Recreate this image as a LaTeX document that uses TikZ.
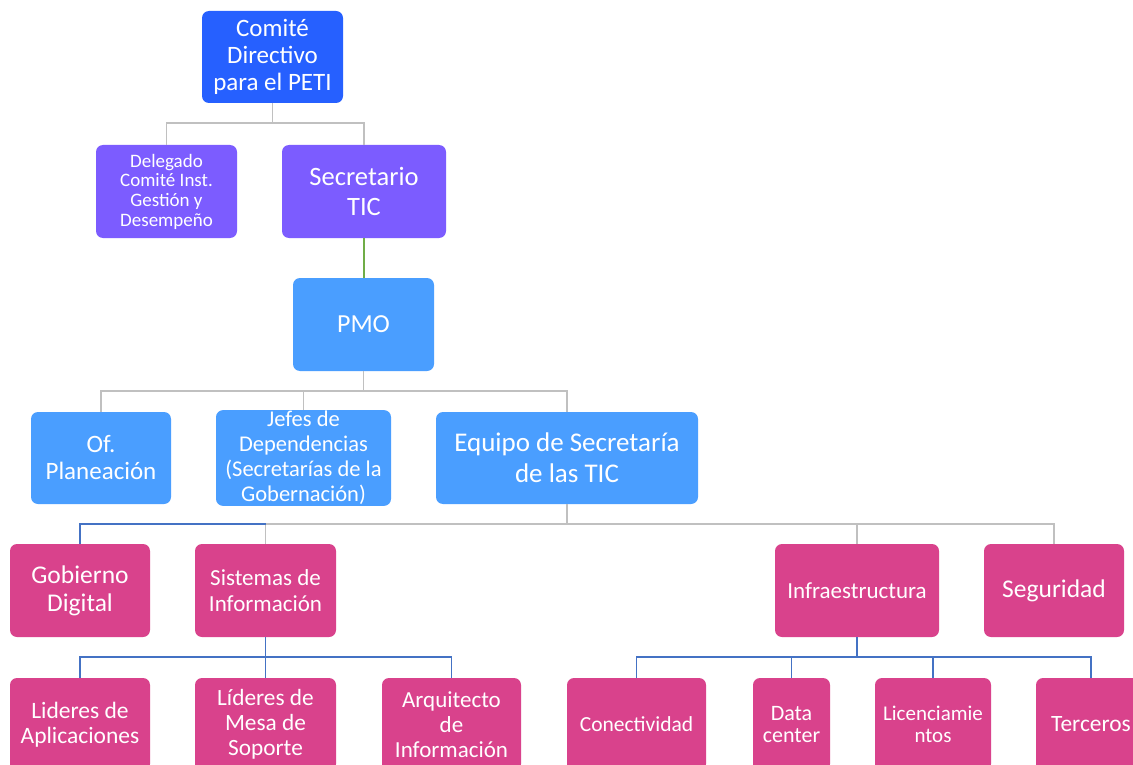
\documentclass[tikz,border=0pt]{standalone}
\usepackage{fontspec}
\setmainfont{Carlito}
\usetikzlibrary{calc}
\definecolor{cTop}{RGB}{38,96,255}
\definecolor{cPur}{RGB}{124,92,255}
\definecolor{cLB}{RGB}{74,158,255}
\definecolor{cPk}{RGB}{217,66,140}
\definecolor{lnG}{RGB}{192,192,192}
\definecolor{lnGr}{RGB}{112,173,71}
\definecolor{lnB}{RGB}{68,114,196}
\tikzset{
  box/.style={rectangle, rounded corners=7pt, draw=none, text=white, align=center, inner sep=1pt},
  gline/.style={draw=lnG, line width=1.8pt},
  grline/.style={draw=lnGr, line width=1.5pt},
  bline/.style={draw=lnB, line width=1.8pt},
}
\begin{document}
\begin{tikzpicture}[x=1pt,y=-1pt]
\useasboundingbox (0,0) rectangle (1133,765);
\fill[white] (0,0) rectangle (1133,765);
\begin{scope}
\clip (0,0) rectangle (1133,765);
% level 0
\node[box, fill=cTop, minimum width=141pt, minimum height=92pt, font=\fontsize{25}{27}\selectfont] (comite) at (272.5,57) {Comité\\Directivo\\para el PETI};
% level 1
\node[box, fill=cPur, minimum width=141pt, minimum height=93pt, font=\fontsize{19}{19.7}\selectfont] (deleg) at (166.5,191.5) {Delegado\\Comité Inst.\\Gestión y\\Desempeño};
\node[box, fill=cPur, minimum width=164pt, minimum height=93pt, font=\fontsize{26.5}{30}\selectfont] (secre) at (364,191.5) {Secretario\\TIC};
% level 2
\node[box, fill=cLB, minimum width=141pt, minimum height=93pt, font=\fontsize{26}{28}\selectfont] (pmo) at (363.5,324.5) {PMO};
% level 3
\node[box, fill=cLB, minimum width=140pt, minimum height=92pt, font=\fontsize{25}{27}\selectfont] (of) at (101,458) {Of.\\Planeación};
\node[box, fill=cLB, minimum width=175pt, minimum height=92pt, font=\fontsize{22.5}{25}\selectfont] (jefes) at (303.5,458) {Jefes de\\Dependencias\\(Secretarías de la\\Gobernación)};
\node[box, fill=cLB, minimum width=262pt, minimum height=92pt, font=\fontsize{27}{31}\selectfont] (equipo) at (567,458) {Equipo de Secretaría\\de las TIC};
% level 4
\node[box, fill=cPk, minimum width=140pt, minimum height=93pt, font=\fontsize{25.5}{28}\selectfont] (gob) at (80,590.5) {Gobierno\\Digital};
\node[box, fill=cPk, minimum width=141pt, minimum height=93pt, font=\fontsize{23}{26}\selectfont] (sist) at (265.5,590.5) {Sistemas de\\Información};
\node[box, fill=cPk, minimum width=164pt, minimum height=93pt, font=\fontsize{23}{26}\selectfont] (infra) at (857,590.5) {Infraestructura};
\node[box, fill=cPk, minimum width=140pt, minimum height=93pt, font=\fontsize{25.5}{28}\selectfont] (seg) at (1054,590.5) {Seguridad};
% level 5
\node[box, fill=cPk, minimum width=140pt, minimum height=93pt, font=\fontsize{23.5}{25}\selectfont] (lidA) at (80,724.5) {Lideres de\\Aplicaciones};
\node[box, fill=cPk, minimum width=141pt, minimum height=93pt, font=\fontsize{23.3}{25}\selectfont] (lidM) at (265.5,724.5) {Líderes de\\Mesa de\\Soporte};
\node[box, fill=cPk, minimum width=139pt, minimum height=93pt, font=\fontsize{23}{25}\selectfont] (arq) at (451.5,724.5) {Arquitecto\\de\\Información};
\node[box, fill=cPk, minimum width=139pt, minimum height=93pt, font=\fontsize{21.5}{24}\selectfont] (con) at (636.5,724.5) {Conectividad};
\node[box, fill=cPk, minimum width=77pt, minimum height=93pt, font=\fontsize{22}{22.5}\selectfont] (data) at (791.5,724.5) {Data\\center};
\node[box, fill=cPk, minimum width=116pt, minimum height=93pt, font=\fontsize{21}{22.5}\selectfont] (lic) at (933,724.5) {Licenciamie\\ntos};
\node[box, fill=cPk, minimum width=110pt, minimum height=93pt, font=\fontsize{23.4}{25}\selectfont] (ter) at (1091,724.5) {Terceros};
\end{scope}
% connectors
\draw[gline] (comite.south) -- ++(0,20) -| (deleg.north);
\draw[gline] (comite.south) -- ++(0,20) -| (secre.north);
\draw[grline] (secre.south) -- (secre.south |- pmo.north);
\draw[gline] (pmo.south) -- ++(0,20) -| (of.north);
\draw[gline] (pmo.south) -- ++(0,20) -| (jefes.north);
\draw[gline] (pmo.south) -- ++(0,20) -| (equipo.north);
\draw[gline] (equipo.south) -- ++(0,20) -| (sist.north);
\draw[gline] (equipo.south) -- ++(0,20) -| (infra.north);
\draw[gline] (equipo.south) -- ++(0,20) -| (seg.north);
\coordinate (eqbar) at ($(equipo.south)+(0,20)$);
\draw[bline] (sist.north |- eqbar) -| (gob.north);
\draw[bline] (sist.south) -- ++(0,20) -| (lidA.north);
\draw[bline] (sist.south) -- ++(0,20) -| (lidM.north);
\draw[bline] (sist.south) -- ++(0,20) -| (arq.north);
\draw[bline] (infra.south) -- ++(0,20) -| (con.north);
\draw[bline] (infra.south) -- ++(0,20) -| (data.north);
\draw[bline] (infra.south) -- ++(0,20) -| (lic.north);
\draw[bline] (infra.south) -- ++(0,20) -| (ter.north);
\end{tikzpicture}
\end{document}
